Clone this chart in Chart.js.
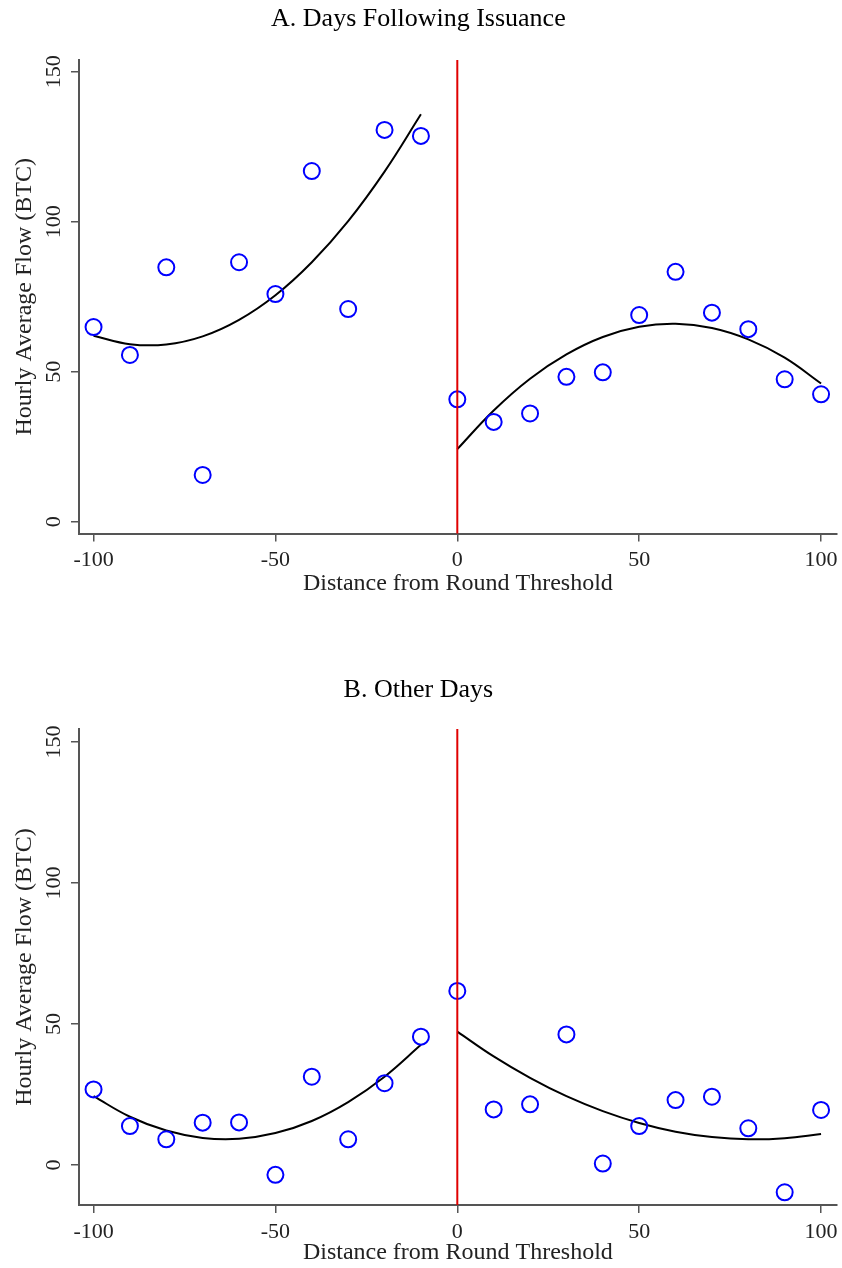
<!doctype html>
<html>
<head>
<meta charset="utf-8">
<title>Hourly Average Flow around Round Thresholds</title>
<script src="https://cdn.jsdelivr.net/npm/chart.js@4"></script>
<style>
html,body{margin:0;padding:0;background:#fff;overflow:hidden}
.panel{position:absolute;left:0;width:842px;height:600px}
#panelA{top:0}
#panelB{top:670px}
</style>
</head>
<body>
<div class="panel" id="panelA"><canvas id="chartA"></canvas></div>
<div class="panel" id="panelB"><canvas id="chartB"></canvas></div>
<script>
// distance bins (x) and the two fitted segments
const bins = [-100, -90, -80, -70, -60, -50, -40, -30, -20, -10, 0, 10, 20, 30, 40, 50, 60, 70, 80, 90, 100];
const leftBins = [-100, -90, -80, -70, -60, -50, -40, -30, -20, -10];
const rightBins = [0, 10, 20, 30, 40, 50, 60, 70, 80, 90, 100];
const threshold = 0;

// A. Days following issuance
const flowA = [64.9, 55.6, 84.8, 15.6, 86.5, 75.9, 116.9, 70.9, 130.6, 128.6,
               40.8, 33.3, 36.1, 48.3, 49.8, 68.9, 83.3, 69.7, 64.2, 47.5, 42.5];
const fitALeft = [62.0, 59.2, 59.1, 61.8, 67.3, 75.5, 86.5, 100.2, 116.7, 135.8];
const fitARight = [24.2, 37.1, 47.7, 55.8, 61.6, 65.0, 66.0, 64.6, 60.8, 54.7, 46.1];

// B. Other days
const flowB = [26.8, 13.8, 9.1, 15.0, 15.1, -3.5, 31.3, 9.1, 29.0, 45.5,
               61.7, 19.7, 21.5, 46.3, 0.5, 13.8, 23.0, 24.2, 13.0, -9.7, 19.5];
const fitBLeft = [24.4, 17.1, 12.2, 9.6, 9.3, 11.3, 15.6, 22.3, 31.3, 42.6];
const fitBRight = [47.3, 38.5, 30.9, 24.4, 19.1, 14.9, 11.8, 9.9, 9.1, 9.5, 11.0];

const xTicks = [-100, -50, 0, 50, 100];
const yTicks = [0, 50, 100, 150];

const serif = 'Liberation Serif, Times New Roman, serif';
const axisCol = '#555';

const thresholdLine = {
  id: 'thresholdLine',
  afterDatasetsDraw(chart) {
    const {ctx, chartArea, scales: {x}} = chart;
    const px = x.getPixelForValue(threshold);
    ctx.save();
    ctx.strokeStyle = '#e00000';
    ctx.lineWidth = 2;
    ctx.beginPath();
    ctx.moveTo(px, chartArea.top);
    ctx.lineTo(px, chartArea.bottom);
    ctx.stroke();
    ctx.restore();
  }
};

function pairs(xs, ys) {
  return xs.map((x, i) => ({x: x, y: ys[i]}));
}

function fitSet(xs, ys) {
  return {
    data: pairs(xs, ys), showLine: true, pointRadius: 0,
    borderColor: '#000', borderWidth: 2, tension: 0.4, fill: false
  };
}

function makePanel(id, title, flow, fitLeft, fitRight, yMin, yMax, lay) {
  new Chart(document.getElementById(id), {
    type: 'scatter',
    data: {
      datasets: [
        {
          data: pairs(bins, flow), pointStyle: 'circle', pointRadius: 8,
          pointBorderWidth: 2, borderColor: '#0000ff', backgroundColor: 'rgba(0,0,0,0)'
        },
        fitSet(leftBins, fitLeft),
        fitSet(rightBins, fitRight)
      ]
    },
    options: {
      responsive: true,
      maintainAspectRatio: false,
      animation: false,
      layout: {autoPadding: false, padding: {left: 0, right: 5.3, top: 0, bottom: 0}},
      plugins: {
        legend: {display: false},
        tooltip: {enabled: false},
        title: {
          display: true, text: title, color: '#000',
          font: {family: serif, size: 26, weight: 'normal'},
          padding: {top: lay.tTop, bottom: lay.tBottom}
        }
      },
      scales: {
        x: {
          type: 'linear', min: -104, max: 104.3,
          afterBuildTicks: s => { s.ticks = xTicks.map(v => ({value: v})); },
          afterFit: s => { s.height = lay.xHeight; s.paddingLeft = 0; s.paddingRight = 0; },
          border: {display: true, color: axisCol, width: 2},
          grid: {display: true, drawOnChartArea: false, drawTicks: true, tickLength: 8, color: axisCol, lineWidth: 1.5},
          ticks: {color: '#222', padding: 6, maxRotation: 0, font: {family: serif, size: 22}},
          title: {
            display: true, text: 'Distance from Round Threshold', color: '#222',
            font: {family: serif, size: 24}, padding: {top: 0, bottom: lay.xtBottom}
          }
        },
        y: {
          type: 'linear', min: yMin, max: yMax,
          afterBuildTicks: s => { s.ticks = yTicks.map(v => ({value: v})); },
          afterFit: s => { s.width = 79; s.paddingTop = 0; s.paddingBottom = 0; },
          border: {display: true, color: axisCol, width: 2},
          grid: {display: true, drawOnChartArea: false, drawTicks: true, tickLength: 8, color: axisCol, lineWidth: 1.5},
          ticks: {color: '#222', padding: 0, minRotation: 90, maxRotation: 90, crossAlign: 'center', font: {family: serif, size: 22}},
          title: {
            display: true, text: 'Hourly Average Flow (BTC)', color: '#222',
            font: {family: serif, size: 24}, padding: {top: 10, bottom: 0}
          }
        }
      }
    },
    plugins: [thresholdLine]
  });
}

makePanel('chartA', 'A. Days Following Issuance', flowA, fitALeft, fitARight, -3.9, 153.9,
  {tTop: 3.4, tBottom: 25.4, xHeight: 66.5, xtBottom: 1.6});
makePanel('chartB', 'B. Other Days', flowB, fitBLeft, fitBRight, -14.2, 154.6,
  {tTop: 4.4, tBottom: 23.4, xHeight: 65, xtBottom: 2.6});
</script>
</body>
</html>
